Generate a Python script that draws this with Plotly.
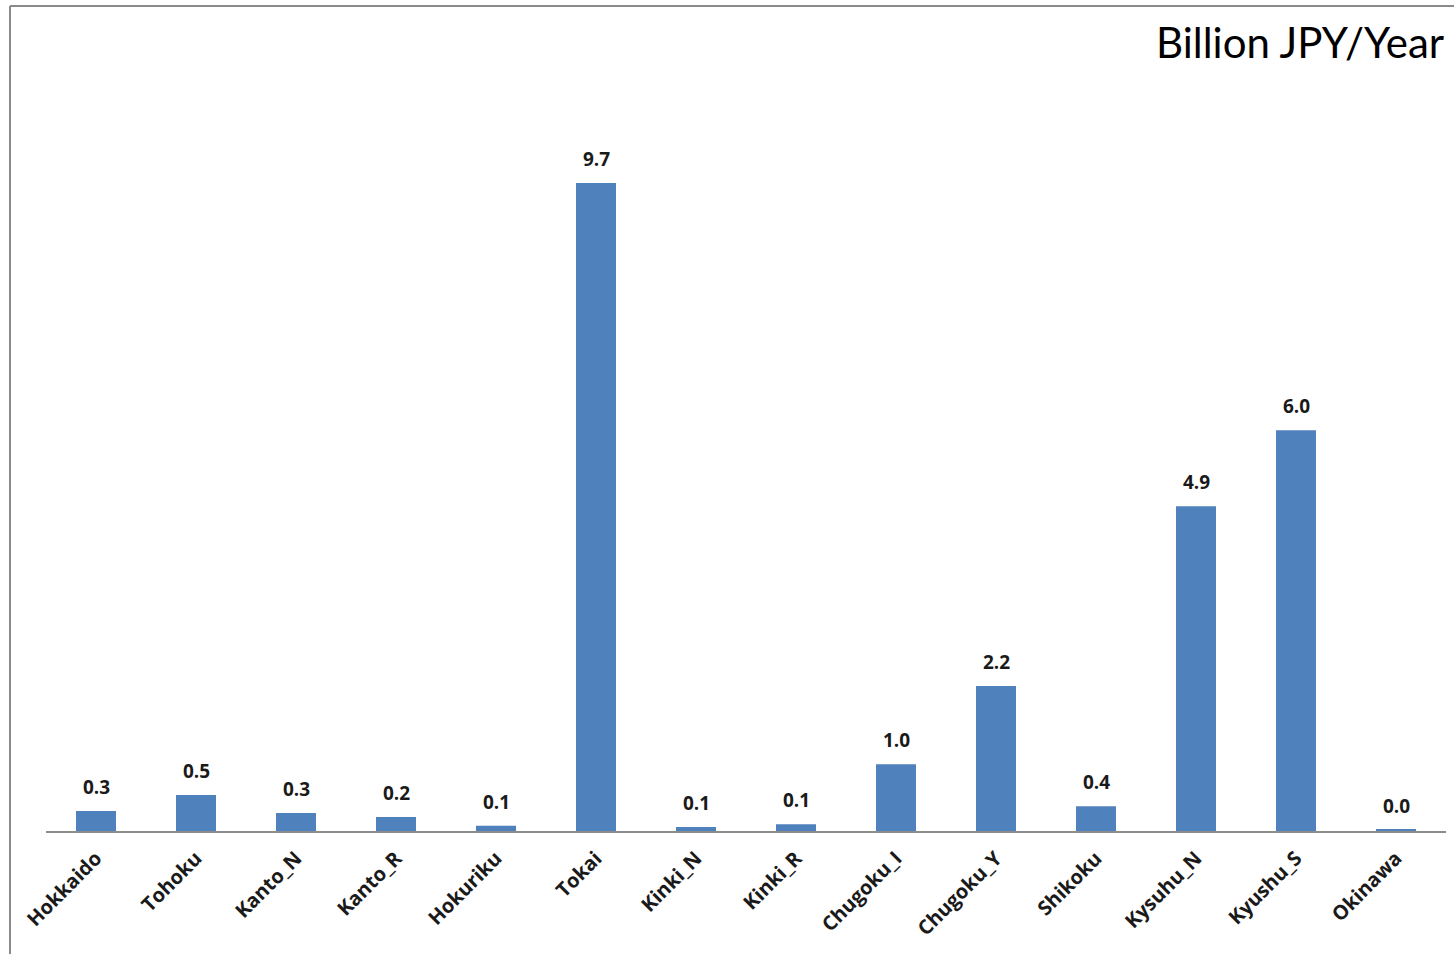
import plotly.graph_objects as go

regions = ["Hokkaido", "Tohoku", "Kanto_N", "Kanto_R", "Hokuriku", "Tokai", "Kinki_N",
           "Kinki_R", "Chugoku_I", "Chugoku_Y", "Shikoku", "Kysuhu_N", "Kyushu_S", "Okinawa"]
values = [0.30, 0.54, 0.27, 0.21, 0.08, 9.70, 0.06, 0.10, 1.00, 2.17, 0.37, 4.86, 6.00, 0.02]
value_labels = ["0.3", "0.5", "0.3", "0.2", "0.1", "9.7", "0.1", "0.1", "1.0", "2.2", "0.4", "4.9", "6.0", "0.0"]
unit_label = "Billion JPY/Year"

W, H = 1454, 954
ml, mr, mt, mb = 46, 8, 60, 123
pw, ph = W - ml - mr, H - mt - mb

fig = go.Figure()
fig.add_trace(go.Bar(x=regions, y=values, marker=dict(color="#4F81BD", line=dict(width=0)),
                     hoverinfo="x+y"))

for r, v, lab in zip(regions, values, value_labels):
    fig.add_annotation(x=r, y=v, text="<b>" + lab + "</b>", showarrow=False,
                       yanchor="bottom", yshift=9,
                       font=dict(family="Open Sans", size=19, color="#1a1a1a"))

fig.add_annotation(xref="paper", yref="paper", x=1.0, y=(H - 42 - mb) / ph,
                   xanchor="right", yanchor="middle", text=unit_label, showarrow=False,
                   font=dict(family="Lato", size=42, color="#000000"))

# outer frame lines (top and left)
fx = (10 - ml) / pw
fy = (H - 6 - mb) / ph
fy0 = (H - H - mb) / ph
fig.add_shape(type="line", xref="paper", yref="paper", x0=fx, x1=(W - ml) / pw, y0=fy, y1=fy,
              line=dict(color="#8a8a8a", width=2))
fig.add_shape(type="line", xref="paper", yref="paper", x0=fx, x1=fx, y0=fy0, y1=fy,
              line=dict(color="#8a8a8a", width=2))

fig.update_layout(
    width=W, height=H,
    margin=dict(l=ml, r=mr, t=mt, b=mb),
    paper_bgcolor="white", plot_bgcolor="white",
    bargap=0.6, showlegend=False,
    xaxis=dict(tickangle=-45, showline=True, linecolor="#8c8c8c", linewidth=1.5,
               ticks="", showgrid=False, zeroline=False, ticklabelstandoff=6,
               tickfont=dict(family="Open Sans", size=20, color="#1a1a1a"),
               tickprefix="<b>", ticksuffix="</b>"),
    yaxis=dict(range=[0, ph / 66.8], visible=False, showgrid=False, zeroline=False),
)

fig.write_html("out.html")
